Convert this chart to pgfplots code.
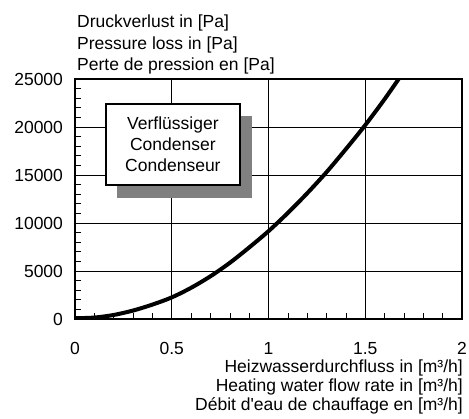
\documentclass[border=0pt]{standalone}
\usepackage{fontspec}
\setmainfont{Liberation Sans}
\usepackage{pgfplots}
\pgfplotsset{compat=1.18}
\begin{document}
\fontsize{17.5bp}{21bp}\selectfont
\begin{tikzpicture}
\useasboundingbox (0,0) rectangle (469bp,419bp);
\begin{axis}[
  at={(75bp,100bp)}, anchor=south west, scale only axis,
  width=387bp, height=240bp,
  xmin=0, xmax=2, ymin=0, ymax=25000,
  xtick={0,0.5,1,1.5,2}, ytick={0,5000,10000,15000,20000,25000},
  xticklabels={0,0.5,1,1.5,2},
  yticklabels={0,5000,10000,15000,20000,25000},
  scaled y ticks=false, scaled x ticks=false,
  minor x tick num=4, minor y tick num=4,
  grid=major, major grid style={black, line width=0.6bp},
  tick pos=left, tick align=inside, major tick length=0pt, minor tick length=6bp,
  axis line style={line width=1.2bp},
  minor tick style={black, line width=0.6bp},
  ticklabel style={font=\fontsize{17.5bp}{21bp}\selectfont},
  xticklabel style={yshift=-17bp},
  yticklabel style={xshift=-6bp},
  clip=true,
]
\fill[black!50] (axis cs:0.217,21146) rectangle (axis cs:0.915,12604);
\draw[line width=1.6bp, fill=white] (axis cs:0.159,22396) rectangle (axis cs:0.853,13958);
\node[align=center, font=\fontsize{17.5bp}{21bp}\selectfont] at (axis cs:0.506,18180) {Verflüssiger\\Condenser\\Condenseur};
\addplot[black, line width=4bp, smooth] coordinates {
(0,80) (0.1,150) (0.2,420) (0.3,880) (0.4,1500) (0.5,2250) (0.6,3250) (0.7,4450)
(0.8,5850) (0.9,7450) (1.0,9150) (1.1,11050) (1.2,13100) (1.3,15300) (1.4,17700)
(1.5,20200) (1.6,22900) (1.7,25800)
};
\end{axis}
\begin{scope}[every node/.style={inner sep=0pt}]
\node[anchor=base west] at (77bp,{(419-28)*1bp}) {Druckverlust in [Pa]};
\node[anchor=base west] at (77bp,{(419-49)*1bp}) {Pressure loss in [Pa]};
\node[anchor=base west] at (77bp,{(419-70)*1bp}) {Perte de pression en [Pa]};
\node[anchor=base east] at (463bp,{(419-372)*1bp}) {Heizwasserdurchfluss in [m³/h]};
\node[anchor=base east] at (463bp,{(419-391)*1bp}) {Heating water flow rate in [m³/h]};
\node[anchor=base east] at (463bp,{(419-410)*1bp}) {Débit d\textquotesingle eau de chauffage en [m³/h]};
\end{scope}
\end{tikzpicture}
\end{document}
